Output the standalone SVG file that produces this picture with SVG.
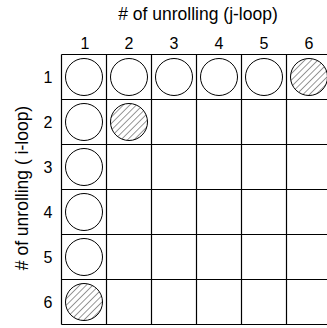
<svg xmlns="http://www.w3.org/2000/svg" width="327" height="328" viewBox="0 0 327 328">
<style>
text{font-family:"Liberation Sans",Arial,sans-serif;fill:#000;text-anchor:middle}
.t{font-size:17.5px}
.n{font-size:16px}
.grid line{stroke:#000;stroke-width:1.2}
.c{fill:#fff;stroke:#000;stroke-width:1}
.h{fill:url(#hatch);stroke:#000;stroke-width:1}
</style>
<defs>
<pattern id="hatch" patternUnits="userSpaceOnUse" width="4.6" height="4.6" patternTransform="rotate(45)">
<rect width="4.6" height="4.6" fill="#fff"/>
<line x1="0" y1="0" x2="0" y2="4.6" stroke="#333" stroke-width="1"/>
</pattern>
</defs>
<rect width="327" height="328" fill="#fff"/>
<text class="t" x="198" y="20"># of unrolling (j-loop)</text>
<g id="colLabels">
<text class="n" x="85" y="49">1</text><text class="n" x="129" y="49">2</text><text class="n" x="174" y="49">3</text><text class="n" x="219" y="49">4</text><text class="n" x="264" y="49">5</text><text class="n" x="309" y="49">6</text>
</g>
<g id="rowLabels">
<text class="n" x="48" y="83">1</text><text class="n" x="48" y="128">2</text><text class="n" x="48" y="173">3</text><text class="n" x="48" y="218">4</text><text class="n" x="48" y="263">5</text><text class="n" x="48" y="308">6</text>
</g>
<text class="t" transform="translate(27.5,188) rotate(-90)"># of unrolling ( i-loop)</text>
<g id="grid" class="grid">
<line x1="61.5" y1="54.5" x2="331.5" y2="54.5"/>
<line x1="61.5" y1="99.5" x2="331.5" y2="99.5"/>
<line x1="61.5" y1="144.5" x2="331.5" y2="144.5"/>
<line x1="61.5" y1="189.5" x2="331.5" y2="189.5"/>
<line x1="61.5" y1="234.5" x2="331.5" y2="234.5"/>
<line x1="61.5" y1="279.5" x2="331.5" y2="279.5"/>
<line x1="61.5" y1="324.5" x2="331.5" y2="324.5"/>
<line x1="61.5" y1="54.5" x2="61.5" y2="324.5"/>
<line x1="106.5" y1="54.5" x2="106.5" y2="324.5"/>
<line x1="151.5" y1="54.5" x2="151.5" y2="324.5"/>
<line x1="196.5" y1="54.5" x2="196.5" y2="324.5"/>
<line x1="241.5" y1="54.5" x2="241.5" y2="324.5"/>
<line x1="286.5" y1="54.5" x2="286.5" y2="324.5"/>
</g>
<g id="row1">
<circle class="c" cx="84" cy="77" r="18.5"/>
<circle class="c" cx="129" cy="77" r="18.5"/>
<circle class="c" cx="174" cy="77" r="18.5"/>
<circle class="c" cx="219" cy="77" r="18.5"/>
<circle class="c" cx="264" cy="77" r="18.5"/>
<circle class="h" cx="309" cy="77" r="18.5"/>
</g>
<g id="row2">
<circle class="c" cx="84" cy="122" r="18.5"/>
<circle class="h" cx="129" cy="122" r="18.5"/>
</g>
<g id="col1">
<circle class="c" cx="84" cy="167" r="18.5"/>
<circle class="c" cx="84" cy="212" r="18.5"/>
<circle class="c" cx="84" cy="257" r="18.5"/>
<circle class="h" cx="84" cy="302" r="18.5"/>
</g>
</svg>
